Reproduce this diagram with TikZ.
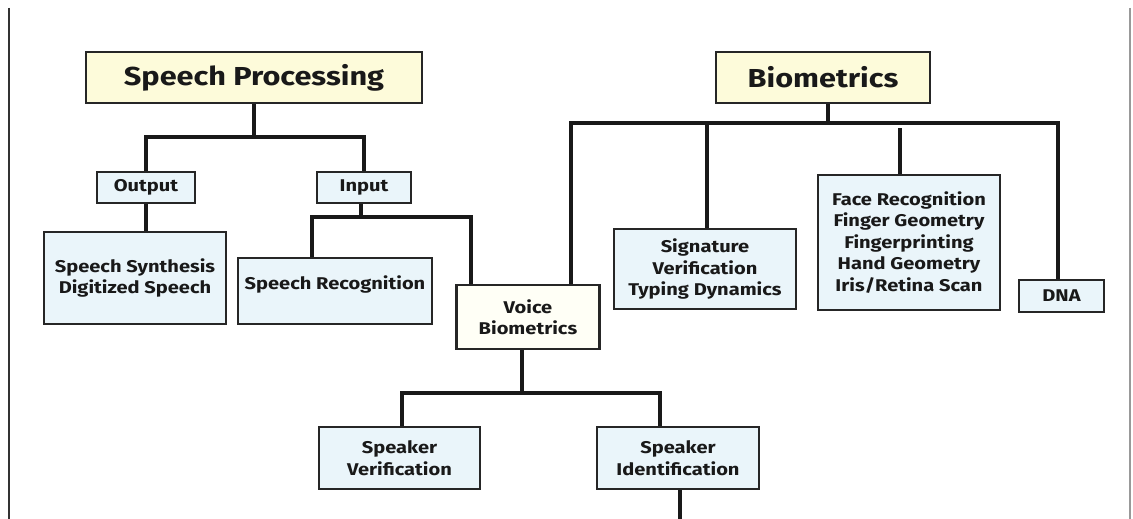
\documentclass[tikz,border=0pt]{standalone}
\usepackage{fontspec}
\setmainfont{Fira Sans}[BoldFont=* Bold, BoldFeatures={FakeStretch=1.18}]
\begin{document}
\begin{tikzpicture}[x=1pt,y=-1pt,
  box/.style={draw=black!85, line width=2.4pt, inner sep=0pt, align=center,
    font=\fontsize{17}{21.5}\selectfont\bfseries, text=black!90},
  headbox/.style={box, fill=headfill, font=\fontsize{26}{28}\selectfont\bfseries},
  leafbox/.style={box, fill=leaffill},
  link/.style={line width=3.2pt, black!90}]
\definecolor{headfill}{HTML}{FDFBDA}
\definecolor{leaffill}{HTML}{EAF5FA}
\definecolor{voicefill}{HTML}{FFFFF6}
\useasboundingbox (0,0) rectangle (1133,519);
\fill[white] (0,0) rectangle (1133,519);

% page frame
\draw[line width=2pt, black!80] (9,8) -- (9,519);
\draw[line width=1.5pt, black!40] (1130,8) -- (1130,519);

% speech processing branch
\node[headbox, minimum width=336pt, minimum height=51pt] (sp) at (254,77.5) {Speech Processing};
\node[leafbox, minimum width=98pt, minimum height=31pt] (out) at (146,187.5) {Output};
\node[leafbox, minimum width=94pt, minimum height=31pt] (inp) at (364,187.5) {Input};
\node[leafbox, minimum width=182pt, minimum height=92pt] (synth) at (135,278) {Speech Synthesis\\Digitized Speech};
\node[leafbox, minimum width=194pt, minimum height=66pt, text depth=17pt] (recog) at (335,291) {Speech Recognition};
\node[box, fill=voicefill, minimum width=143pt, minimum height=64pt] (voice) at (528,317) {Voice\\Biometrics};
\node[leafbox, minimum width=161pt, minimum height=62pt] (sv) at (399.5,458) {Speaker\\Verification};
\node[leafbox, minimum width=162pt, minimum height=62pt] (si) at (678,458) {Speaker\\Identification};

% biometrics branch
\node[headbox, minimum width=214pt, minimum height=51pt] (bio) at (823,77.5) {Biometrics};
\node[leafbox, minimum width=182pt, minimum height=80pt] (sig) at (705,269) {Signature\\Verification\\Typing Dynamics};
\node[leafbox, minimum width=182pt, minimum height=135pt] (face) at (909,242.5)
  {Face Recognition\\Finger Geometry\\Fingerprinting\\Hand Geometry\\Iris/Retina Scan};
\node[leafbox, minimum width=85pt, minimum height=32pt] (dna) at (1061.5,296) {DNA};

% junction points
\coordinate (spj) at (254,137);
\coordinate (inj) at (361,217);
\coordinate (bioj) at (828,123);
\coordinate (sigj) at (707,123);
\coordinate (facej) at (900,128);
\coordinate (voj) at (522,393);
\coordinate (tail) at (680,519);

% connectors
\draw[link] (sp.south) -- (spj);
\draw[link] (out.north) |- (spj) -| (inp.north);
\draw[link] (out.south) -- (synth.north -| out.south);
\draw[link] (inp.south -| inj) -- (inj);
\draw[link] ([xshift=-23pt]recog.north) |- (inj) -| ([xshift=-57pt]voice.north);

\draw[link] ([xshift=5pt]bio.south) -- ([yshift=2pt]bioj);
\draw[link] ([xshift=43pt]voice.north) |- (bioj) -| ([xshift=-3.5pt]dna.north);
\draw[link] (sigj) -- (sig.north -| sigj);
\draw[link] (facej) -- (face.north -| facej);

\draw[link] (voice.south -| voj) -- (voj);
\draw[link] ([xshift=2.5pt]sv.north) |- (voj) -| ([xshift=-18pt]si.north);
\draw[link] ([xshift=2pt]si.south) -- (tail);
\end{tikzpicture}
\end{document}
